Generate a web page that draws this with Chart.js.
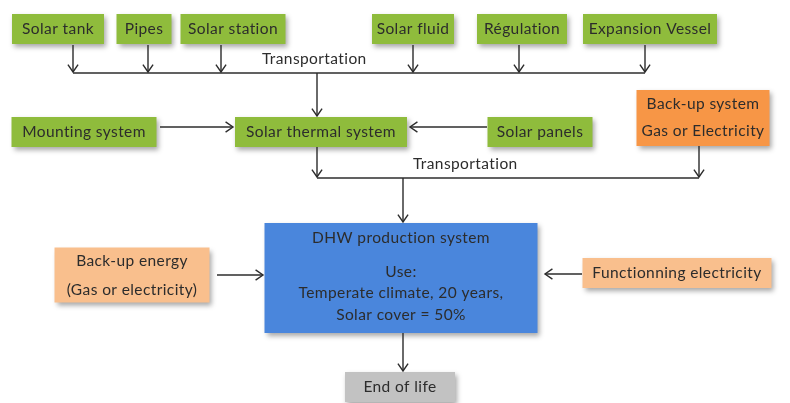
<!DOCTYPE html>
<html>
<head>
<meta charset="utf-8">
<script src="https://cdn.jsdelivr.net/npm/chart.js@4.4.0/dist/chart.umd.min.js"></script>
<style>
  body { margin: 0; background: #ffffff; }
  #wrap { width: 790px; height: 403px; }
</style>
</head>
<body>
<div id="wrap"><canvas id="flow" width="790" height="403"></canvas></div>
<script>
// node texts (one entry per box, lines split with \n)
var nodeLabels = [
    'Solar tank', 'Pipes', 'Solar station', 'Solar fluid', 'Régulation', 'Expansion Vessel',
    'Mounting system', 'Solar thermal system', 'Solar panels', 'Back-up system\nGas or Electricity',
    'DHW production system\nUse:\nTemperate climate, 20 years,\nSolar cover = 50%',
    'Back-up energy\n(Gas or electricity)', 'Functionning electricity', 'End of life'
];
// node centres in diagram units
var nodeX = [58, 144, 233, 413, 522, 650, 84, 321, 540, 703, 401, 132, 677, 400];
var nodeY = [29, 29, 29, 29, 29, 29, 132, 132, 132, 118, 278, 275, 273, 387];
var nodeKind = ['green', 'green', 'green', 'green', 'green', 'green', 'green', 'green', 'green',
    'orange', 'blue', 'peach', 'peach', 'grey'];

// connectors: [x, y] start and end, arrow at the end when arrow flag is 1
var linkFrom = [[73, 45], [148, 45], [221, 45], [413, 45], [519, 45], [645, 45], [73, 73], [317, 73],
    [160, 127], [487, 127], [317, 147], [699, 146], [317, 178], [403, 178],
    [217, 275], [582, 274], [403, 333]];
var linkTo = [[73, 72], [148, 72], [221, 72], [413, 72], [519, 72], [645, 72], [645, 73], [317, 116],
    [233, 127], [410, 127], [317, 177], [699, 177], [699, 178], [403, 222],
    [263, 275], [545, 274], [403, 371]];
var linkArrow = [1, 1, 1, 1, 1, 1, 0, 1, 1, 1, 1, 1, 0, 1, 1, 1, 1];

var edgeLabels = ['Transportation', 'Transportation'];
var edgeLabelX = [262, 413];
var edgeLabelY = [59, 164];

// box sizes and styles
var boxSize = {
    0: [92, 30], 1: [55, 30], 2: [105, 30], 3: [82, 30], 4: [90, 30], 5: [134, 30],
    6: [145, 30], 7: [172, 30], 8: [105, 30], 9: [133, 56], 10: [273, 110],
    11: [155, 55], 12: [189, 30], 13: [110, 30]
};
// line offsets from box centre for multi-line boxes
var lineOffsets = { 9: [-14, 13], 10: [-40, -6, 15, 37], 11: [-14, 15] };
var fills = { green: '#8fbc3c', orange: '#f79646', blue: '#4a86dc', peach: '#f9bf8d', grey: '#c2c2c2' };
var FONT = '15.5px Lato, "Open Sans", sans-serif';
var INK = '#2c2c2c';

var datasets = linkFrom.map(function (p, i) {
    return {
        data: [{ x: p[0], y: p[1] }, { x: linkTo[i][0], y: linkTo[i][1] }],
        showLine: true,
        borderColor: INK,
        borderWidth: 1.4,
        pointRadius: 0,
        arrow: linkArrow[i]
    };
});

var boxesPlugin = {
    id: 'boxes',
    beforeDatasetsDraw: function (chart) {
        var ctx = chart.ctx, xs = chart.scales.x, ys = chart.scales.y;
        ctx.save();
        nodeLabels.forEach(function (label, i) {
            var sz = boxSize[i];
            var x0 = xs.getPixelForValue(nodeX[i] - sz[0] / 2);
            var x1 = xs.getPixelForValue(nodeX[i] + sz[0] / 2);
            var y0 = ys.getPixelForValue(nodeY[i] - sz[1] / 2);
            var y1 = ys.getPixelForValue(nodeY[i] + sz[1] / 2);
            ctx.shadowColor = 'rgba(0,0,0,0.35)';
            ctx.shadowBlur = 5;
            ctx.shadowOffsetX = 2;
            ctx.shadowOffsetY = 3;
            ctx.fillStyle = fills[nodeKind[i]];
            ctx.fillRect(x0, y0, x1 - x0, y1 - y0);
            ctx.shadowColor = 'transparent';
        });
        ctx.restore();
    },
    afterDatasetsDraw: function (chart) {
        var ctx = chart.ctx, xs = chart.scales.x, ys = chart.scales.y;
        ctx.save();
        // arrow heads
        chart.data.datasets.forEach(function (ds) {
            if (!ds.arrow) return;
            var a = ds.data[0], b = ds.data[1];
            var ax = xs.getPixelForValue(a.x), ay = ys.getPixelForValue(a.y);
            var bx = xs.getPixelForValue(b.x), by = ys.getPixelForValue(b.y);
            var ang = Math.atan2(by - ay, bx - ax);
            ctx.strokeStyle = INK;
            ctx.lineWidth = 1.4;
            ctx.beginPath();
            ctx.moveTo(bx - 9 * Math.cos(ang - 0.6), by - 9 * Math.sin(ang - 0.6));
            ctx.lineTo(bx, by);
            ctx.lineTo(bx - 9 * Math.cos(ang + 0.6), by - 9 * Math.sin(ang + 0.6));
            ctx.stroke();
        });
        // box texts
        ctx.font = FONT;
        if ('letterSpacing' in ctx) ctx.letterSpacing = '0.4px';
        ctx.fillStyle = INK;
        ctx.textAlign = 'center';
        ctx.textBaseline = 'middle';
        nodeLabels.forEach(function (label, i) {
            var lines = label.split('\n');
            var offs = lineOffsets[i] || [0];
            var cx = xs.getPixelForValue(nodeX[i]);
            lines.forEach(function (ln, k) {
                ctx.fillText(ln, cx, ys.getPixelForValue(nodeY[i] + offs[k]));
            });
        });
        ctx.textAlign = 'left';
        edgeLabels.forEach(function (t, i) {
            ctx.fillText(t, xs.getPixelForValue(edgeLabelX[i]), ys.getPixelForValue(edgeLabelY[i]));
        });
        ctx.restore();
    }
};

new Chart(document.getElementById('flow').getContext('2d'), {
    type: 'scatter',
    data: { datasets: datasets },
    options: {
        responsive: false,
        animation: false,
        layout: { padding: 0 },
        plugins: { legend: { display: false }, tooltip: { enabled: false } },
        scales: {
            x: { type: 'linear', min: 0, max: 790, display: false },
            y: { type: 'linear', min: 0, max: 403, reverse: true, display: false }
        }
    },
    plugins: [boxesPlugin]
});
</script>
</body>
</html>
